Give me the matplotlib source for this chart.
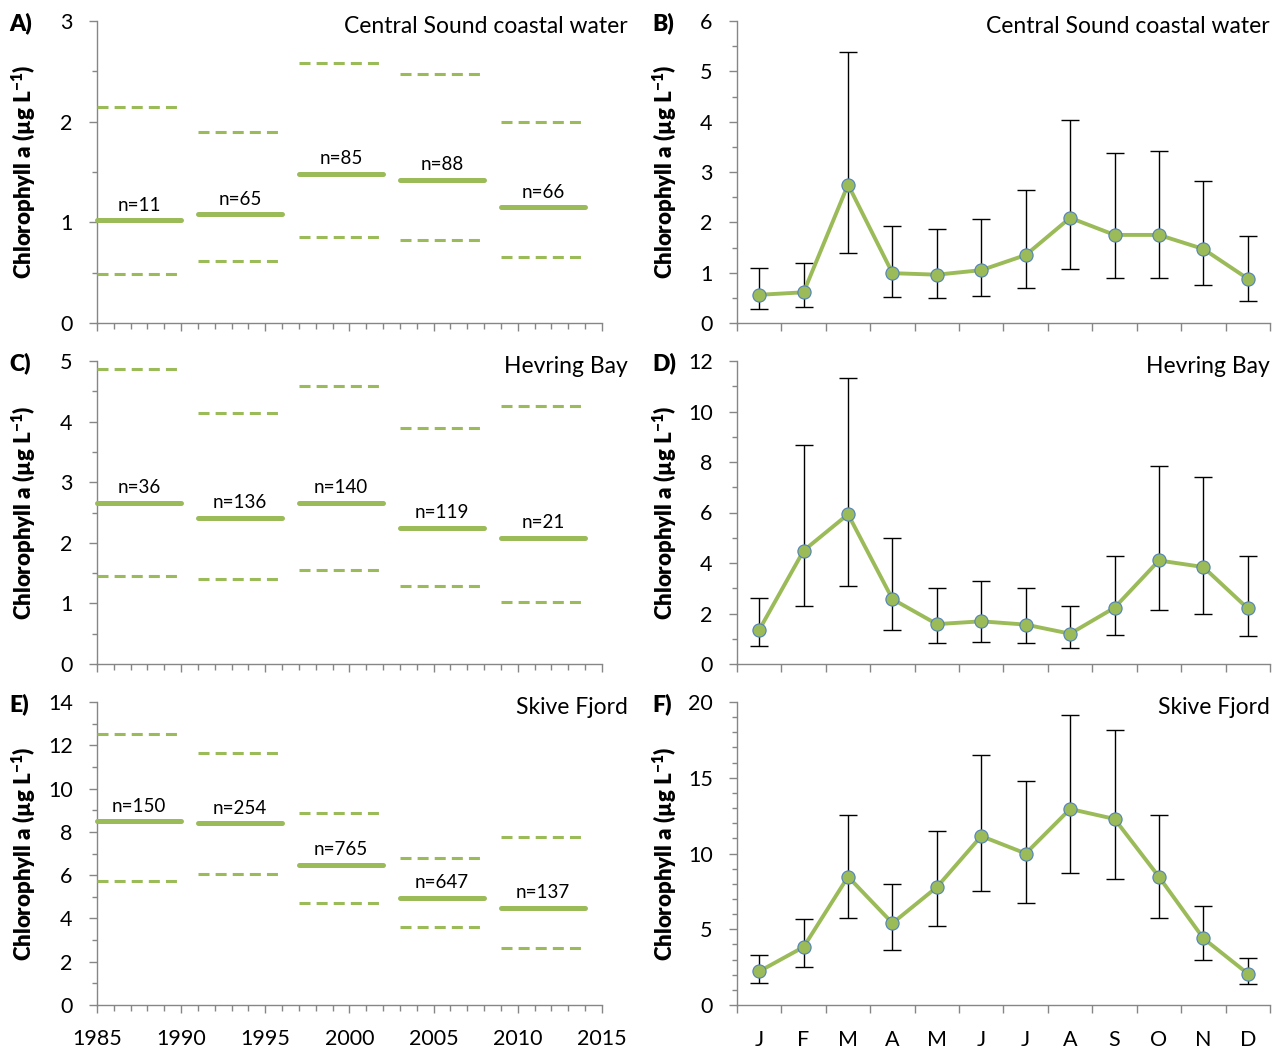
import matplotlib
matplotlib.use("Agg")
import matplotlib.pyplot as plt
from matplotlib.ticker import MultipleLocator, FixedLocator, NullFormatter

plt.rcParams['font.family'] = ['Lato', 'DejaVu Sans']
plt.rcParams['mathtext.fontset'] = 'custom'
plt.rcParams['mathtext.rm'] = 'Lato'
plt.rcParams['mathtext.bf'] = 'Lato:heavy'

# ---- data -------------------------------------------------------------
period_start = [1985, 1991, 1997, 2003, 2009]
period_end = [1990, 1996, 2002, 2008, 2014]
months = ['J', 'F', 'M', 'A', 'M', 'J', 'J', 'A', 'S', 'O', 'N', 'D']

sites = ['Central Sound coastal water', 'Hevring Bay', 'Skive Fjord']

# period medians with 10th / 90th percentiles and sample counts
cs_median = [1.02, 1.08, 1.48, 1.42, 1.15]
cs_upper = [2.15, 1.90, 2.58, 2.47, 2.00]
cs_lower = [0.49, 0.62, 0.85, 0.82, 0.66]
cs_n = [11, 65, 85, 88, 66]

hb_median = [2.66, 2.41, 2.66, 2.25, 2.08]
hb_upper = [4.87, 4.14, 4.58, 3.90, 4.25]
hb_lower = [1.45, 1.40, 1.55, 1.29, 1.02]
hb_n = [36, 136, 140, 119, 21]

sf_median = [8.48, 8.39, 6.47, 4.96, 4.49]
sf_upper = [12.52, 11.64, 8.85, 6.79, 7.74]
sf_lower = [5.73, 6.04, 4.73, 3.62, 2.63]
sf_n = [150, 254, 765, 647, 137]

# monthly means with upper / lower range
cs_month = [0.56, 0.61, 2.75, 0.99, 0.96, 1.05, 1.35, 2.09, 1.75, 1.75, 1.47, 0.88]
cs_month_hi = [1.09, 1.19, 5.38, 1.92, 1.86, 2.06, 2.64, 4.03, 3.38, 3.42, 2.82, 1.72]
cs_month_lo = [0.28, 0.31, 1.40, 0.52, 0.49, 0.54, 0.69, 1.08, 0.90, 0.89, 0.76, 0.44]

hb_month = [1.35, 4.49, 5.93, 2.57, 1.58, 1.69, 1.56, 1.20, 2.23, 4.10, 3.84, 2.20]
hb_month_hi = [2.62, 8.69, 11.33, 4.98, 3.02, 3.28, 3.00, 2.30, 4.28, 7.85, 7.42, 4.27]
hb_month_lo = [0.70, 2.31, 3.10, 1.33, 0.83, 0.87, 0.82, 0.63, 1.16, 2.12, 1.99, 1.12]

sf_month = [2.22, 3.83, 8.47, 5.40, 7.78, 11.15, 10.00, 12.94, 12.28, 8.46, 4.40, 2.07]
sf_month_hi = [3.31, 5.67, 12.56, 7.98, 11.50, 16.48, 14.81, 19.15, 18.16, 12.52, 6.51, 3.09]
sf_month_lo = [1.44, 2.54, 5.72, 3.62, 5.23, 7.50, 6.73, 8.72, 8.29, 5.71, 2.94, 1.36]

# ---- style ------------------------------------------------------------
GREEN = '#9BBB59'
EDGE = '#4F81BD'
AXIS = '#868686'
W, H = 1283, 1053

fig = plt.figure(figsize=(W / 100, H / 100), dpi=100)


def px_axes(x0, y0, x1, y1):
    return fig.add_axes([x0 / W, 1 - y1 / H, (x1 - x0) / W, (y1 - y0) / H])


def style_axes(ax):
    for s in ('top', 'right'):
        ax.spines[s].set_visible(False)
    for s in ('left', 'bottom'):
        ax.spines[s].set_color(AXIS)
        ax.spines[s].set_linewidth(1.0)
    ax.tick_params(axis='y', which='major', direction='out', length=5.5, width=1,
                   color=AXIS, labelsize=15.5, pad=12)
    ax.tick_params(axis='y', which='minor', direction='out', length=3.6, width=1,
                   color=AXIS)


def period_panel(ax, median, upper, lower, n, ymax, major, minor, show_x):
    style_axes(ax)
    for i in range(len(period_start)):
        xs = [period_start[i], period_end[i]]
        ax.plot(xs, [median[i]] * 2, color=GREEN, lw=3.6,
                solid_capstyle='round', clip_on=False, zorder=3)
        for v in (upper[i], lower[i]):
            ax.plot(xs, [v] * 2, color=GREEN, lw=2.2, ls=(0, (3.6, 2.0)),
                    dash_capstyle='butt', clip_on=False, zorder=3)
        ax.annotate(f"n={n[i]}", xy=((xs[0] + xs[1]) / 2, median[i]),
                    xytext=(0, 7), textcoords='offset points',
                    ha='center', va='baseline', fontsize=13.5)
    ax.set_xlim(1985, 2015)
    ax.set_ylim(0, ymax)
    ax.xaxis.set_major_locator(MultipleLocator(5))
    ax.xaxis.set_minor_locator(MultipleLocator(1))
    ax.yaxis.set_major_locator(MultipleLocator(major))
    ax.yaxis.set_minor_locator(MultipleLocator(minor))
    ax.tick_params(axis='x', which='major', direction='out', length=6, width=1,
                   color=AXIS, labelsize=15.5, pad=11)
    ax.tick_params(axis='x', which='minor', direction='out', length=4, width=1,
                   color=AXIS)
    if not show_x:
        ax.xaxis.set_major_formatter(NullFormatter())


def month_panel(ax, mean, hi, lo, ymax, major, minor, show_x):
    style_axes(ax)
    xs = list(range(1, len(months) + 1))
    yerr = [[m - l for m, l in zip(mean, lo)], [h - m for m, h in zip(mean, hi)]]
    ax.errorbar(xs, mean, yerr=yerr, fmt='none', ecolor='black', elinewidth=1.0,
                capsize=6.5, capthick=1.0, zorder=2)
    ax.plot(xs, mean, color=GREEN, lw=2.8, marker='o', ms=9.5,
            markerfacecolor=GREEN, markeredgecolor=EDGE, markeredgewidth=0.8,
            zorder=3)
    ax.set_xlim(0.5, len(months) + 0.5)
    ax.set_ylim(0, ymax)
    ax.xaxis.set_major_locator(FixedLocator([i + 0.5 for i in range(len(months) + 1)]))
    ax.xaxis.set_major_formatter(NullFormatter())
    ax.xaxis.set_minor_locator(FixedLocator(xs))
    ax.tick_params(axis='x', which='major', direction='out', length=6, width=1,
                   color=AXIS)
    ax.tick_params(axis='x', which='minor', length=0, labelsize=15.5, pad=18)
    if show_x:
        ax.set_xticklabels(months, minor=True)
    ax.yaxis.set_major_locator(MultipleLocator(major))
    ax.yaxis.set_minor_locator(MultipleLocator(minor))


rows = [(21, 323), (361, 664), (702, 1005)]
LEFT = (97, 602)
RIGHT = (737, 1270)

period_data = [
    (cs_median, cs_upper, cs_lower, cs_n, 3, 1, 0.5),
    (hb_median, hb_upper, hb_lower, hb_n, 5, 1, 0.5),
    (sf_median, sf_upper, sf_lower, sf_n, 14, 2, 1),
]
month_data = [
    (cs_month, cs_month_hi, cs_month_lo, 6, 1, 0.5),
    (hb_month, hb_month_hi, hb_month_lo, 12, 2, 1),
    (sf_month, sf_month_hi, sf_month_lo, 20, 5, 1),
]
letters = [('A)', 'B)'), ('C)', 'D)'), ('E)', 'F)')]
ylabel = r'Chlorophyll a (µg L$^{\mathbf{-1}}$)'

for r, (top, bot) in enumerate(rows):
    last = r == len(rows) - 1
    axl = px_axes(LEFT[0], top, LEFT[1], bot)
    period_panel(axl, *period_data[r], show_x=last)
    axr = px_axes(RIGHT[0], top, RIGHT[1], bot)
    month_panel(axr, *month_data[r], show_x=last)

    mid = 1 - (top + bot) / 2 / H
    fig.text(24 / W, mid, ylabel, rotation=90, ha='center', va='center',
             fontsize=16, fontweight='heavy')
    fig.text(665 / W, mid, ylabel, rotation=90, ha='center', va='center',
             fontsize=16, fontweight='heavy')
    fig.text(9 / W, 1 - (top + 9) / H, letters[r][0], ha='left', va='baseline',
             fontsize=16.5, fontweight='heavy')
    fig.text(652 / W, 1 - (top + 9) / H, letters[r][1], ha='left', va='baseline',
             fontsize=16.5, fontweight='heavy')
    fig.text(628 / W, 1 - (top + 12) / H, sites[r], ha='right', va='baseline',
             fontsize=16.5)
    fig.text(1270 / W, 1 - (top + 12) / H, sites[r], ha='right', va='baseline',
             fontsize=16.5)

fig.savefig('out.png', dpi=100, facecolor='white')
